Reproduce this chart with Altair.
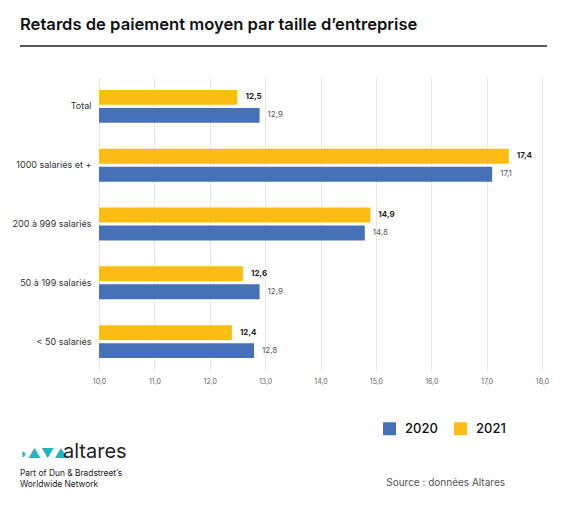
import altair as alt
import pandas as pd

categories = ["Total", "1000 salariés et +", "200 à 999 salariés", "50 à 199 salariés", "< 50 salariés"]
values_2020 = [12.9, 17.1, 14.8, 12.9, 12.8]
values_2021 = [12.5, 17.4, 14.9, 12.6, 12.4]
years = ["2020", "2021"]
colors = ["#4670B7", "#FBBD14"]
x_ticks = [10, 11, 12, 13, 14, 15, 16, 17, 18]

rows = []
for c, v0, v1 in zip(categories, values_2020, values_2021):
    rows.append({"cat": c, "year": "2020", "value": v0})
    rows.append({"cat": c, "year": "2021", "value": v1})
df = pd.DataFrame(rows)
df["label"] = df["value"].map(lambda v: f"{v:.1f}".replace(".", ","))

FONT = "Inter"

y_enc = alt.Y("cat:N", sort=categories, title=None,
              scale=alt.Scale(paddingInner=0.44, paddingOuter=0.22),
              axis=alt.Axis(labelFontSize=9, labelColor="#333333", labelFont=FONT,
                            labelPadding=8, ticks=False, domain=False, grid=False))
yoff = alt.YOffset("year:N", sort=["2021", "2020"], scale=alt.Scale(paddingInner=0.17))
x_enc = alt.X("value:Q", title=None,
              scale=alt.Scale(domain=[10, 18], zero=False, nice=False),
              axis=alt.Axis(values=x_ticks, grid=True, gridColor="#E8E8E8", gridWidth=1,
                            ticks=False, domain=False, labelFontSize=7, labelColor="#666666",
                            labelFont=FONT, labelPadding=6, labelFlush=False,
                            labelExpr="replace(format(datum.value, '.1f'), '.', ',')"))

base = alt.Chart(df)

bars = base.mark_bar().encode(
    y=y_enc, yOffset=yoff, x=x_enc, x2=alt.datum(10),
    color=alt.Color("year:N", scale=alt.Scale(domain=years, range=colors),
                    legend=alt.Legend(title=None, orient="none", legendX=284, legendY=345,
                                      direction="horizontal", symbolType="square",
                                      symbolSize=169, symbolStrokeWidth=0, symbolOpacity=1,
                                      labelFontSize=13, labelFont=FONT, labelFontWeight=500,
                                      labelColor="#111111", labelOffset=9, columnPadding=16)),
)

lab21 = base.transform_filter(alt.datum.year == "2021").mark_text(
    align="left", baseline="middle", dx=8, fontSize=8, fontWeight="bold", font=FONT, color="#222222"
).encode(y=y_enc, yOffset=yoff, x=x_enc, text="label:N")

lab20 = base.transform_filter(alt.datum.year == "2020").mark_text(
    align="left", baseline="middle", dx=8, fontSize=8, font=FONT, color="#555555"
).encode(y=y_enc, yOffset=yoff, x=x_enc, text="label:N")

def txt(t, x, y, size, color="#222222", weight="normal", align="left"):
    return alt.Chart(pd.DataFrame({"t": [t]})).mark_text(
        align=align, baseline="alphabetic", fontSize=size, fontWeight=weight, font=FONT, color=color
    ).encode(x=alt.value(x), y=alt.value(y), text="t:N")

title = txt("Retards de paiement moyen par taille d’entreprise", -79, -47, 16.6, "#111111", 600)
rule = alt.Chart(pd.DataFrame({"a": [0]})).mark_rule(color="#222222", strokeWidth=1.5).encode(
    x=alt.value(-79), x2=alt.value(448), y=alt.value(-31))
logo_mark = txt("◗▲▼▲", -79, 381, 13, "#22B3C0")
logo_txt = txt("altares", -36, 381, 20, "#222222")
l1 = txt("Part of Dun & Bradstreet’s", -79, 399, 8.4, "#222222")
l2 = txt("Worldwide Network", -79, 410, 8.4, "#222222")
src = txt("Source : données Altares", 406, 409, 10, "#555555", align="right")

chart = alt.layer(bars, lab21, lab20, title, rule, logo_mark, logo_txt, l1, l2, src).properties(
    width=443, height=294,
    autosize=alt.AutoSizeParams(type="none"),
    padding={"left": 91, "top": 69, "right": 10, "bottom": 120},
).configure_view(stroke=None)

chart.save("out.html", embed_options={"renderer": "svg", "actions": False})
